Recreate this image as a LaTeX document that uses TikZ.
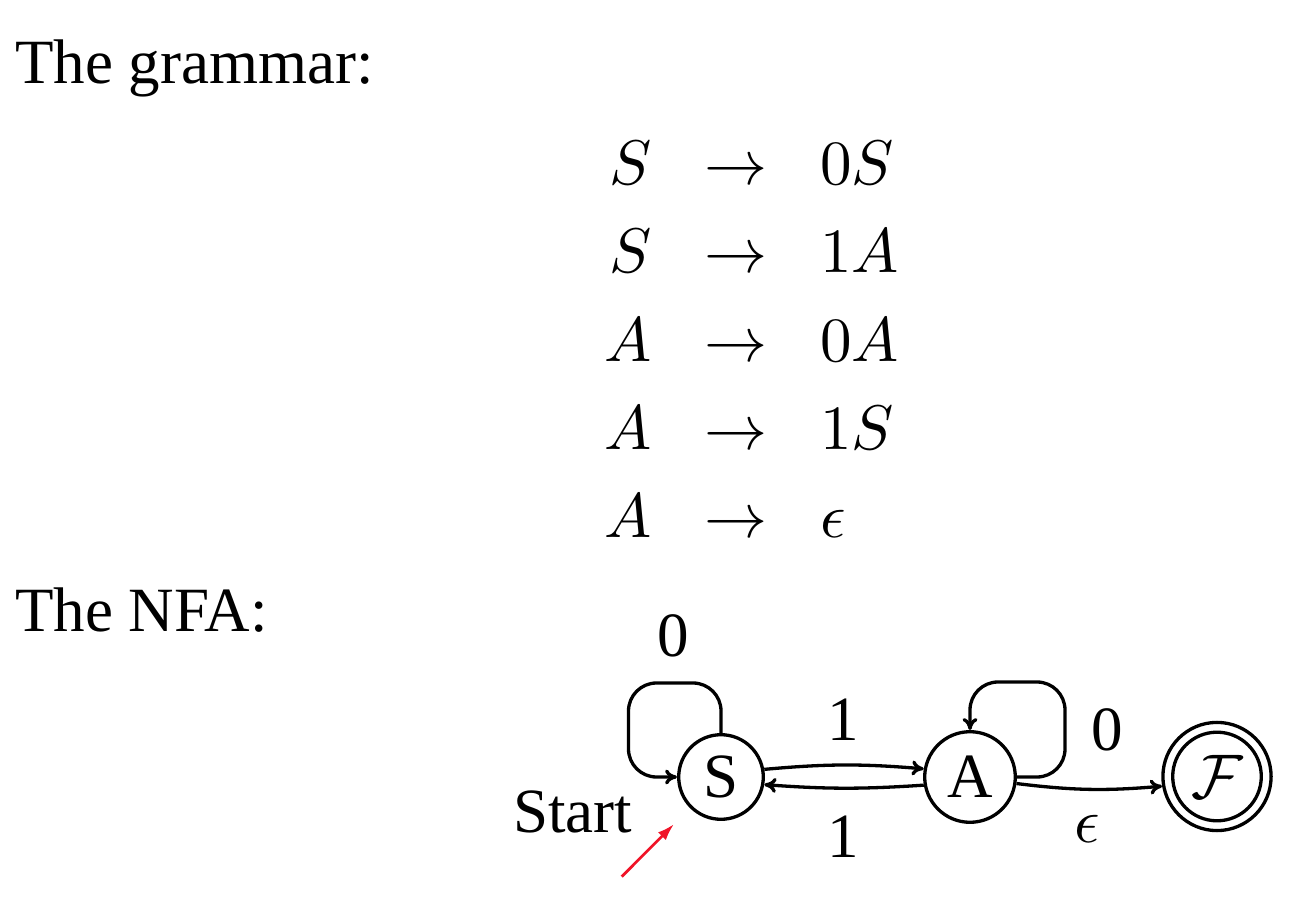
\documentclass[tikz,border=0pt]{standalone}
\usepackage[no-math]{fontspec}
\setmainfont{Liberation Serif}
\DeclareFontShape{OML}{cmm}{m}{it}{<->cmmi10}{}
\DeclareFontShape{OMS}{cmsy}{m}{n}{<->cmsy10}{}
\DeclareFontShape{OT1}{cmr}{m}{n}{<->cmr10}{}
\DeclareFontShape{OMX}{cmex}{m}{n}{<->cmex10}{}
\usetikzlibrary{arrows.meta}
\definecolor{startred}{RGB}{240,20,40}
\tikzset{
  txt/.style={inner sep=0pt, font=\fontsize{63}{75}\selectfont},
  state/.style={circle, draw, line width=3.3pt, inner sep=0pt, font=\fontsize{63}{75}\selectfont},
  edge/.style={line width=3.3pt, -{To[length=12pt,width=15pt]}},
  lbl/.style={inner sep=0pt, anchor=base, font=\fontsize{63}{75}\selectfont},
  startarrow/.style={draw=startred, line width=2.7pt, -{Latex[length=17pt,width=11pt]}},
}
\begin{document}
\begin{tikzpicture}[x=1pt,y=1pt]
\useasboundingbox (0,0) rectangle (1302,906);
% headings
\node[txt, anchor=base west] (h1) at (15,822) {The grammar:};
\node[txt, anchor=base west] (h2) at (15,274) {The NFA:};
% grammar
\node[txt, anchor=base east] (l1) at (652,721) {$S$};
\node[txt, anchor=base] (a1) at (735.5,721) {$\rightarrow$};
\node[txt, anchor=base west] (r1) at (820,721) {$0S$};
\node[txt, anchor=base east] (l2) at (652,633) {$S$};
\node[txt, anchor=base] (a2) at (735.5,633) {$\rightarrow$};
\node[txt, anchor=base west] (r2) at (820,633) {$1A$};
\node[txt, anchor=base east] (l3) at (652,544) {$A$};
\node[txt, anchor=base] (a3) at (735.5,544) {$\rightarrow$};
\node[txt, anchor=base west] (r3) at (820,544) {$0A$};
\node[txt, anchor=base east] (l4) at (652,456) {$A$};
\node[txt, anchor=base] (a4) at (735.5,456) {$\rightarrow$};
\node[txt, anchor=base west] (r4) at (820,456) {$1S$};
\node[txt, anchor=base east] (l5) at (652,368) {$A$};
\node[txt, anchor=base] (a5) at (735.5,368) {$\rightarrow$};
\node[txt, anchor=base west] (r5) at (820,368) {$\epsilon$};
% NFA states
\node[state, minimum size=84.6pt] (S) at (721,129) {S};
\node[state, minimum size=90.6pt] (A) at (970,129) {A};
\node[state, minimum size=108.2pt] (F) at (1217,129.5) {$\mathcal{F}$};
\draw[line width=3.3pt] (F.center) circle[radius=44.3];
% loops
\draw[edge, rounded corners=28pt] (S.north) -- (721,223) -- (628.5,223) -- (628.5,129) -- (S.west);
\node[lbl] (l0s) at (673,249) {0};
\draw[edge, rounded corners=28pt] (A.east) -- (1065,129) -- (1065,224) -- (970,224) -- (A.north);
\node[lbl] (l0a) at (1107.5,156) {0};
% transitions
\draw[edge] (S.10) to[bend left=5] (A.170);
\node[lbl] (l1t) at (843,166) {1};
\draw[edge] (A.190) to[bend left=4] (S.-10);
\node[lbl] (l1b) at (843,49) {1};
\draw[edge] (A.-8) to[bend right=6] (F.190);
\node[lbl] (leps) at (1087,64) {$\epsilon$};
% start
\node[txt, anchor=base west] (start) at (513,74) {Start};
\coordinate (st0) at (621.7,29.3);
\draw[startarrow, shorten >=22.6pt] (st0) -- (S.225);
\end{tikzpicture}
\end{document}
